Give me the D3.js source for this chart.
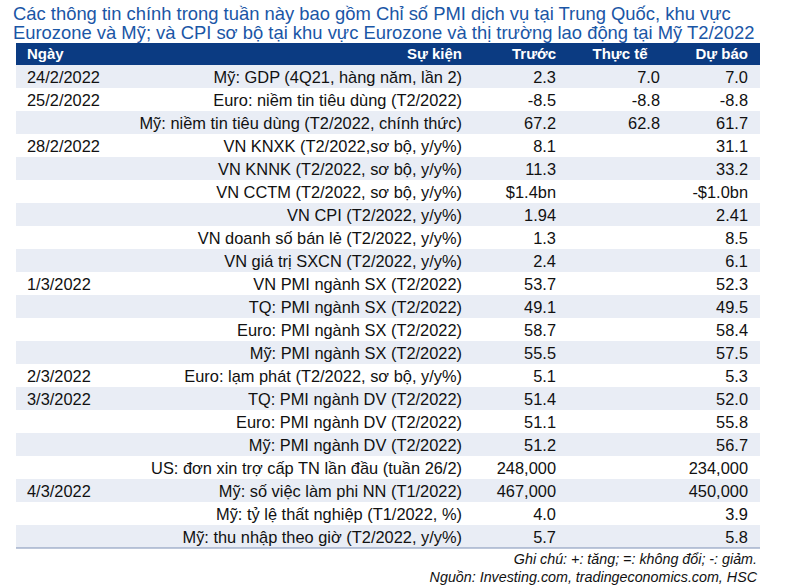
<!DOCTYPE html>
<html>
<head>
<script src="https://d3js.org/d3.v7.min.js"></script>
<style>
body { margin: 0; background: #fff; }
svg text { font-family: "Liberation Sans", Arial, sans-serif; }
</style>
</head>
<body>
<svg width="807" height="588"></svg>
<script>
const headers = ["Ngày", "Sự kiện", "Trước", "Thực tế", "Dự báo"];
const dates = ["24/2/2022", "25/2/2022", "", "28/2/2022", "", "", "", "", "", "1/3/2022", "", "", "", "2/3/2022", "3/3/2022", "", "", "", "4/3/2022", "", ""];
const events = [
  "Mỹ: GDP (4Q21, hàng năm, lần 2)", "Euro: niềm tin tiêu dùng (T2/2022)", "Mỹ: niềm tin tiêu dùng (T2/2022, chính thức)",
  "VN KNXK (T2/2022,sơ bộ, y/y%)", "VN KNNK (T2/2022, sơ bộ, y/y%)", "VN CCTM (T2/2022, sơ bộ, y/y%)",
  "VN CPI (T2/2022, y/y%)", "VN doanh số bán lẻ (T2/2022, y/y%)", "VN giá trị SXCN (T2/2022, y/y%)",
  "VN PMI ngành SX (T2/2022)", "TQ: PMI ngành SX (T2/2022)", "Euro: PMI ngành SX (T2/2022)", "Mỹ: PMI ngành SX (T2/2022)",
  "Euro: lạm phát (T2/2022, sơ bộ, y/y%)", "TQ: PMI ngành DV (T2/2022)", "Euro: PMI ngành DV (T2/2022)", "Mỹ: PMI ngành DV (T2/2022)",
  "US: đơn xin trợ cấp TN lần đầu (tuần 26/2)", "Mỹ: số việc làm phi NN (T1/2022)", "Mỹ: tỷ lệ thất nghiệp (T1/2022, %)",
  "Mỹ: thu nhập theo giờ (T2/2022, y/y%)"];
const previous = ["2.3", "-8.5", "67.2", "8.1", "11.3", "$1.4bn", "1.94", "1.3", "2.4", "53.7", "49.1", "58.7", "55.5", "5.1", "51.4", "51.1", "51.2", "248,000", "467,000", "4.0", "5.7"];
const actual = ["7.0", "-8.8", "62.8", "", "", "", "", "", "", "", "", "", "", "", "", "", "", "", "", "", ""];
const forecast = ["7.0", "-8.8", "61.7", "31.1", "33.2", "-$1.0bn", "2.41", "8.5", "6.1", "52.3", "49.5", "58.4", "57.5", "5.3", "52.0", "55.8", "56.7", "234,000", "450,000", "3.9", "5.8"];

const svg = d3.select("svg");
const left = 16, right = 760, headTop = 43, headH = 22, rowH = 23;
const y = d3.scaleBand().domain(d3.range(events.length)).range([headTop + headH, headTop + headH + rowH * events.length]);

svg.append("text").attr("x", 13).attr("y", 20).attr("font-size", 18.4).attr("fill", "#1a56a6")
  .text("Các thông tin chính trong tuần này bao gồm Chỉ số PMI dịch vụ tại Trung Quốc, khu vực");
svg.append("text").attr("x", 13).attr("y", 39).attr("font-size", 18.4).attr("fill", "#1a56a6")
  .text("Eurozone và Mỹ; và CPI sơ bộ tại khu vực Eurozone và thị trường lao động tại Mỹ T2/2022");

svg.append("rect").attr("x", left).attr("y", headTop).attr("width", right - left).attr("height", headH).attr("fill", "#0b3b82");
const headX = [27, 462, 556, 620, 748];
svg.selectAll(".hd").data(headers).enter().append("text")
  .attr("x", (d, i) => headX[i]).attr("y", headTop + 16)
  .attr("text-anchor", (d, i) => i === 0 ? "start" : i === 3 ? "middle" : "end")
  .attr("fill", "#fff").attr("font-weight", "bold").attr("font-size", 15).text(d => d);

const rows = svg.selectAll(".row").data(events).enter().append("g")
  .attr("transform", (d, i) => "translate(0," + y(i) + ")");
rows.append("rect").attr("x", left).attr("width", right - left).attr("height", rowH)
  .attr("fill", (d, i) => i % 2 === 0 ? "#e9edf5" : "#fff");
const colData = [dates, events, previous, actual, forecast];
const cellX = [27, 462, 556, 660, 748];
colData.forEach((arr, c) => {
  rows.append("text").attr("x", cellX[c]).attr("y", 17.5).attr("text-anchor", c === 0 ? "start" : "end")
    .attr("font-size", 16.4).attr("fill", "#111").text((d, i) => arr[i]);
});
const bottom = headTop + headH + rowH * events.length;
svg.append("line").attr("x1", left).attr("x2", right).attr("y1", bottom).attr("y2", bottom).attr("stroke", "#7d90b5").attr("stroke-width", 1);

svg.append("text").attr("x", 757).attr("y", bottom + 16).attr("text-anchor", "end").attr("font-size", 14.3).attr("font-style", "italic").attr("fill", "#111")
  .text("Ghi chú: +: tăng; =: không đổi; -: giảm.");
svg.append("text").attr("x", 757).attr("y", bottom + 34).attr("text-anchor", "end").attr("font-size", 14.3).attr("font-style", "italic").attr("fill", "#111")
  .text("Nguồn: Investing.com, tradingeconomics.com, HSC");
</script>
</body>
</html>
